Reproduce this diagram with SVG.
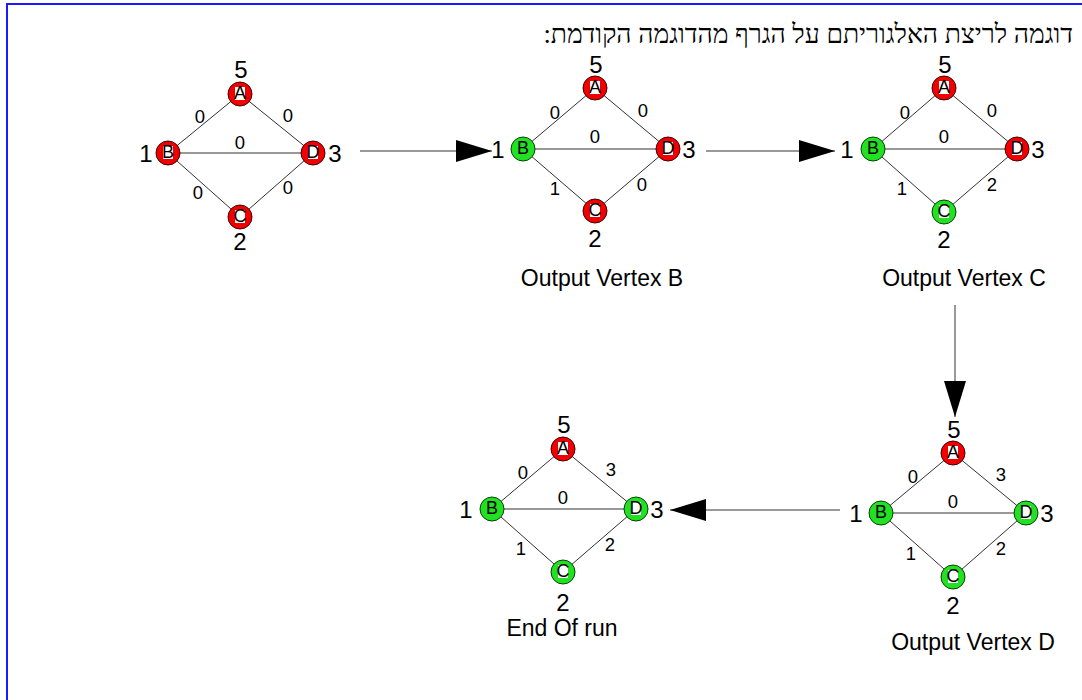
<svg xmlns="http://www.w3.org/2000/svg" width="1082" height="700" viewBox="0 0 1082 700">
<style>
.edge{stroke:#333;stroke-width:1;fill:none}
.red{fill:#f00000;stroke:#400;stroke-width:1}
.green{fill:#22e022;stroke:#040;stroke-width:1}
.lbl{font-family:"Liberation Sans",Arial,sans-serif;font-size:18px;fill:#000;text-anchor:middle;dominant-baseline:central}
.num{font-family:"Liberation Sans",Arial,sans-serif;font-size:24px;fill:#000;text-anchor:middle;dominant-baseline:central}
.w{font-family:"Liberation Sans",Arial,sans-serif;font-size:18.5px;fill:#000;text-anchor:middle;dominant-baseline:central}
.cap{font-family:"Liberation Sans",Arial,sans-serif;font-size:23px;fill:#000;text-anchor:middle;dominant-baseline:central}
.conn{stroke:#333;stroke-width:1;fill:none}
.bg{fill:#fff}
</style>
<defs>
<marker id="ah" viewBox="0 0 36 22" refX="36" refY="11" markerWidth="36" markerHeight="22" markerUnits="userSpaceOnUse" orient="auto">
<path d="M0,0 L36,11 L0,22 Z" fill="#000"/>
</marker>
</defs>
<rect x="7" y="4" width="1100" height="720" fill="#fff" stroke="#1a1aff" stroke-width="2"/>
<text x="1073" y="34" text-anchor="end" font-family="Liberation Serif, DejaVu Serif, serif" font-size="26.5" fill="#000" dominant-baseline="central">דוגמה לריצת האלגוריתם על הגרף מהדוגמה הקודמת:&#x200F;</text>

<g id="connectors">
<line class="conn" x1="360" y1="151" x2="492" y2="151" marker-end="url(#ah)"/>
<line class="conn" x1="706" y1="151" x2="835" y2="151" marker-end="url(#ah)"/>
<line class="conn" x1="955" y1="305" x2="955" y2="417" marker-end="url(#ah)"/>
<line class="conn" x1="840" y1="510" x2="670" y2="510" marker-end="url(#ah)"/>
</g>

<!-- Graph 1 -->
<g id="graph1">
<line class="edge" x1="168" y1="153" x2="240" y2="94"/>
<line class="edge" x1="240" y1="94" x2="313" y2="153"/>
<line class="edge" x1="168" y1="153" x2="313" y2="153"/>
<line class="edge" x1="168" y1="153" x2="240" y2="217"/>
<line class="edge" x1="240" y1="217" x2="313" y2="153"/>
<text class="w" x="200" y="116">0</text>
<text class="w" x="288" y="115">0</text>
<text class="w" x="240" y="142">0</text>
<text class="w" x="198" y="192">0</text>
<text class="w" x="288" y="187">0</text>
<g id="g1A"><circle class="red" cx="240" cy="94" r="12"/><rect class="bg" x="235" y="87" width="10" height="13"/><text class="lbl" x="240" y="93">A</text><text class="num" x="241" y="69">5</text></g>
<g id="g1B"><circle class="red" cx="168" cy="153" r="12"/><rect class="bg" x="163" y="146" width="10" height="13"/><text class="lbl" x="168" y="152">B</text><text class="num" x="146" y="153">1</text></g>
<g id="g1D"><circle class="red" cx="313" cy="153" r="12"/><rect class="bg" x="308" y="146" width="10" height="13"/><text class="lbl" x="313" y="152">D</text><text class="num" x="335" y="153">3</text></g>
<g id="g1C"><circle class="red" cx="240" cy="217" r="12"/><rect class="bg" x="235" y="210" width="10" height="13"/><text class="lbl" x="240" y="216">C</text><text class="num" x="240" y="241">2</text></g>
</g>

<!-- Graph 2 -->
<g id="graph2">
<line class="edge" x1="523" y1="149" x2="595" y2="88"/>
<line class="edge" x1="595" y1="88" x2="668" y2="149"/>
<line class="edge" x1="523" y1="149" x2="668" y2="149"/>
<line class="edge" x1="523" y1="149" x2="595" y2="211"/>
<line class="edge" x1="595" y1="211" x2="668" y2="149"/>
<text class="w" x="555" y="112">0</text>
<text class="w" x="643" y="110">0</text>
<text class="w" x="595" y="136">0</text>
<text class="w" x="555" y="188">1</text>
<text class="w" x="642" y="184">0</text>
<g id="g2A"><circle class="red" cx="595" cy="88" r="12"/><rect class="bg" x="590" y="81" width="10" height="13"/><text class="lbl" x="595" y="87">A</text><text class="num" x="596" y="64">5</text></g>
<g id="g2B"><circle class="green" cx="523" cy="149" r="12"/><text class="lbl" x="523" y="148">B</text><text class="num" x="498" y="149">1</text></g>
<g id="g2D"><circle class="red" cx="668" cy="149" r="12"/><rect class="bg" x="663" y="142" width="10" height="13"/><text class="lbl" x="668" y="148">D</text><text class="num" x="689" y="149">3</text></g>
<g id="g2C"><circle class="red" cx="595" cy="211" r="12"/><rect class="bg" x="590" y="204" width="10" height="13"/><text class="lbl" x="595" y="210">C</text><text class="num" x="595" y="238">2</text></g>
<text class="cap" x="602" y="278">Output Vertex B</text>
</g>

<!-- Graph 3 -->
<g id="graph3">
<line class="edge" x1="873" y1="149" x2="944" y2="88"/>
<line class="edge" x1="944" y1="88" x2="1017" y2="149"/>
<line class="edge" x1="873" y1="149" x2="1017" y2="149"/>
<line class="edge" x1="873" y1="149" x2="944" y2="212"/>
<line class="edge" x1="944" y1="212" x2="1017" y2="149"/>
<text class="w" x="905" y="112">0</text>
<text class="w" x="992" y="110">0</text>
<text class="w" x="944" y="136">0</text>
<text class="w" x="902" y="188">1</text>
<text class="w" x="992" y="184">2</text>
<g id="g3A"><circle class="red" cx="944" cy="88" r="12"/><rect class="bg" x="939" y="81" width="10" height="13"/><text class="lbl" x="944" y="87">A</text><text class="num" x="945" y="64">5</text></g>
<g id="g3B"><circle class="green" cx="873" cy="149" r="12"/><text class="lbl" x="873" y="148">B</text><text class="num" x="847" y="149">1</text></g>
<g id="g3D"><circle class="red" cx="1017" cy="149" r="12"/><rect class="bg" x="1012" y="142" width="10" height="13"/><text class="lbl" x="1017" y="148">D</text><text class="num" x="1038" y="149">3</text></g>
<g id="g3C"><circle class="green" cx="944" cy="212" r="12"/><rect class="bg" x="939" y="205" width="10" height="13"/><text class="lbl" x="944" y="211">C</text><text class="num" x="944" y="239">2</text></g>
<text class="cap" x="964" y="278">Output Vertex C</text>
</g>

<!-- Graph 4 (end) -->
<g id="graph4">
<line class="edge" x1="492" y1="509" x2="563" y2="449"/>
<line class="edge" x1="563" y1="449" x2="636" y2="509"/>
<line class="edge" x1="492" y1="509" x2="636" y2="509"/>
<line class="edge" x1="492" y1="509" x2="563" y2="572"/>
<line class="edge" x1="563" y1="572" x2="636" y2="509"/>
<text class="w" x="523" y="472">0</text>
<text class="w" x="611" y="469">3</text>
<text class="w" x="563" y="497">0</text>
<text class="w" x="521" y="548">1</text>
<text class="w" x="610" y="544">2</text>
<g id="g4A"><circle class="red" cx="563" cy="449" r="12"/><rect class="bg" x="558" y="442" width="10" height="13"/><text class="lbl" x="563" y="448">A</text><text class="num" x="564" y="424">5</text></g>
<g id="g4B"><circle class="green" cx="492" cy="509" r="12"/><text class="lbl" x="492" y="508">B</text><text class="num" x="466" y="509">1</text></g>
<g id="g4D"><circle class="green" cx="636" cy="509" r="12"/><rect class="bg" x="631" y="502" width="10" height="13"/><text class="lbl" x="636" y="508">D</text><text class="num" x="657" y="509">3</text></g>
<g id="g4C"><circle class="green" cx="563" cy="572" r="12"/><rect class="bg" x="558" y="565" width="10" height="13"/><text class="lbl" x="563" y="571">C</text><text class="num" x="563" y="602">2</text></g>
<text class="cap" x="562" y="628">End Of run</text>
</g>

<!-- Graph 5 -->
<g id="graph5">
<line class="edge" x1="881" y1="513" x2="953" y2="453"/>
<line class="edge" x1="953" y1="453" x2="1026" y2="513"/>
<line class="edge" x1="881" y1="513" x2="1026" y2="513"/>
<line class="edge" x1="881" y1="513" x2="953" y2="577"/>
<line class="edge" x1="953" y1="577" x2="1026" y2="513"/>
<text class="w" x="913" y="476">0</text>
<text class="w" x="1001" y="474">3</text>
<text class="w" x="953" y="501">0</text>
<text class="w" x="911" y="553">1</text>
<text class="w" x="1001" y="548">2</text>
<g id="g5A"><circle class="red" cx="953" cy="453" r="12"/><rect class="bg" x="948" y="446" width="10" height="13"/><text class="lbl" x="953" y="452">A</text><text class="num" x="954" y="429">5</text></g>
<g id="g5B"><circle class="green" cx="881" cy="513" r="12"/><text class="lbl" x="881" y="512">B</text><text class="num" x="856" y="513">1</text></g>
<g id="g5D"><circle class="green" cx="1026" cy="513" r="12"/><rect class="bg" x="1021" y="506" width="10" height="13"/><text class="lbl" x="1026" y="512">D</text><text class="num" x="1047" y="513">3</text></g>
<g id="g5C"><circle class="green" cx="953" cy="577" r="12"/><rect class="bg" x="948" y="570" width="10" height="13"/><text class="lbl" x="953" y="576">C</text><text class="num" x="953" y="605">2</text></g>
<text class="cap" x="973" y="642">Output Vertex D</text>
</g>
</svg>
